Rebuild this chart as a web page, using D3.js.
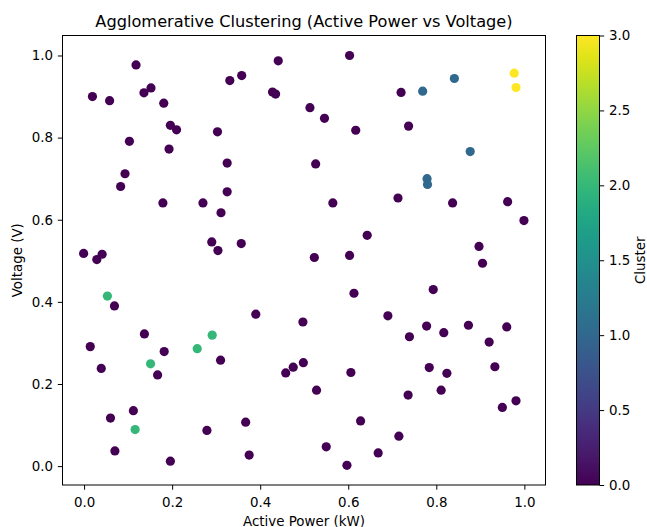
<!DOCTYPE html>
<html>
<head>
<meta charset="utf-8">
<script src="https://cdn.jsdelivr.net/npm/d3@7"></script>
<style>
  body { margin: 0; background: #fff; }
  text { font-family: "DejaVu Sans", sans-serif; fill: #000; }
</style>
</head>
<body>
<script>
// data: active power (kW), voltage (V), cluster label
const power = [0.118,0.019,0.058,0.136,0.152,0.181,0.331,0.358,0.441,0.428,
  0.435,0.513,0.196,0.210,0.103,0.303,0.193,0.325,0.093,0.083,
  0.325,0.179,0.270,0.311,0.290,0.304,0.357,-0.001,0.041,0.029,
  0.603,0.720,0.769,0.841,0.977,0.981,0.546,0.617,0.737,0.877,
  0.526,0.779,0.780,0.565,0.713,0.837,0.962,0.999,0.643,0.897,
  0.523,0.603,0.905,0.613,0.793,0.690,0.497,0.778,0.817,0.873,
  0.960,0.739,0.920,0.498,0.606,0.784,0.824,0.933,0.528,0.736,
  0.811,0.950,0.981,0.628,0.715,0.550,0.668,0.597,0.053,0.069,
  0.390,0.137,0.291,0.014,0.257,0.182,0.310,0.151,0.039,0.167,
  0.458,0.475,0.112,0.060,0.116,0.367,0.279,0.070,0.375,0.196];
const voltage = [0.977,0.900,0.890,0.909,0.921,0.884,0.939,0.951,0.987,0.911,
  0.906,0.873,0.830,0.819,0.791,0.814,0.772,0.738,0.712,0.681,
  0.668,0.641,0.641,0.617,0.546,0.525,0.542,0.518,0.516,0.503,
  1.000,0.910,0.913,0.944,0.957,0.922,0.847,0.818,0.828,0.766,
  0.736,0.700,0.686,0.641,0.653,0.641,0.644,0.598,0.562,0.535,
  0.508,0.513,0.494,0.421,0.430,0.366,0.351,0.341,0.325,0.343,
  0.339,0.315,0.302,0.252,0.228,0.240,0.226,0.242,0.185,0.173,
  0.185,0.143,0.159,0.110,0.073,0.047,0.032,0.002,0.414,0.390,
  0.370,0.322,0.319,0.291,0.286,0.279,0.258,0.249,0.238,0.222,
  0.227,0.241,0.135,0.117,0.089,0.107,0.087,0.037,0.027,0.012];
const cluster = [0,0,0,0,0,0,0,0,0,0, 0,0,0,0,0,0,0,0,0,0,
  0,0,0,0,0,0,0,0,0,0, 0,0,1,1,3,3,0,0,0,1,
  0,1,1,0,0,0,0,0,0,0, 0,0,0,0,0,0,0,0,0,0,
  0,0,0,0,0,0,0,0,0,0, 0,0,0,0,0,0,0,0,2,0,
  0,0,2,0,2,0,0,2,0,0, 0,0,0,0,2,0,0,0,0,0];
const xTicks = [0.0, 0.2, 0.4, 0.6, 0.8, 1.0];
const yTicks = [0.0, 0.2, 0.4, 0.6, 0.8, 1.0];
const cTicks = [0.0, 0.5, 1.0, 1.5, 2.0, 2.5, 3.0];

const W = 647, H = 527;
const plot = {left: 62.5, right: 545.5, top: 35.5, bottom: 485};
const bar = {left: 576.5, right: 599.5};
const fs = "13.4px";

const svg = d3.select("body").append("svg")
  .attr("width", W).attr("height", H);

const x = d3.scaleLinear().domain([-0.049, 1.048]).range([plot.left, plot.right]);
const y = d3.scaleLinear().domain([-0.046, 1.0487]).range([plot.bottom, plot.top]);
const c = d3.scaleLinear().domain([0, 3]).range([plot.bottom, plot.top]);
const color = v => d3.interpolateViridis(v / 3);

// points
const pts = power.map((p, i) => ({x: p, y: voltage[i], k: cluster[i]}));
svg.append("g").selectAll("circle")
  .data(pts).enter().append("circle")
  .attr("cx", d => x(d.x))
  .attr("cy", d => y(d.y))
  .attr("r", 4.6)
  .style("fill", d => color(d.k));

// axes
let styleAxis = function (g) {
  g.select(".domain").remove();
  g.selectAll("line").attr("stroke", "#000");
  g.selectAll("text").style("font-size", fs).attr("fill", "#000")
    .style("font-family", "DejaVu Sans, sans-serif");
};
svg.append("g")
  .attr("transform", `translate(0,${plot.bottom})`)
  .call(d3.axisBottom(x).tickValues(xTicks).tickFormat(d3.format(".1f")).tickSize(4.7).tickPadding(7.4))
  .call(styleAxis);
svg.append("g")
  .attr("transform", `translate(${plot.left},0)`)
  .call(d3.axisLeft(y).tickValues(yTicks).tickFormat(d3.format(".1f")).tickSize(4.7).tickPadding(4.7))
  .call(styleAxis);

svg.append("rect")
  .attr("x", plot.left).attr("y", plot.top)
  .attr("width", plot.right - plot.left).attr("height", plot.bottom - plot.top)
  .style("fill", "none").style("stroke", "#000").style("stroke-width", 1);

// titles
svg.append("text")
  .attr("x", (plot.left + plot.right) / 2).attr("y", 27)
  .attr("text-anchor", "middle").style("font-size", "16.2px")
  .text("Agglomerative Clustering (Active Power vs Voltage)");
svg.append("text")
  .attr("x", (plot.left + plot.right) / 2).attr("y", 525.5)
  .attr("text-anchor", "middle").style("font-size", fs)
  .text("Active Power (kW)");
svg.append("text")
  .attr("transform", `translate(22,${(plot.top + plot.bottom) / 2}) rotate(-90)`)
  .attr("text-anchor", "middle").style("font-size", fs)
  .text("Voltage (V)");

// colorbar
const defs = svg.append("defs");
const grad = defs.append("linearGradient").attr("id", "vir")
  .attr("x1", 0).attr("y1", 1).attr("x2", 0).attr("y2", 0);
d3.range(0, 1.0001, 0.05).forEach(t => {
  grad.append("stop").attr("offset", t).attr("stop-color", d3.interpolateViridis(t));
});
svg.append("rect")
  .attr("x", bar.left).attr("y", plot.top)
  .attr("width", bar.right - bar.left).attr("height", plot.bottom - plot.top)
  .style("fill", "url(#vir)").style("stroke", "#000").style("stroke-width", 1);
svg.append("g")
  .attr("transform", `translate(${bar.right},0)`)
  .call(d3.axisRight(c).tickValues(cTicks).tickFormat(d3.format(".1f")).tickSize(4.7).tickPadding(4.7))
  .call(styleAxis);
svg.append("text")
  .attr("transform", `translate(645,${(plot.top + plot.bottom) / 2}) rotate(-90)`)
  .attr("text-anchor", "middle").style("font-size", fs)
  .text("Cluster");
</script>
</body>
</html>
